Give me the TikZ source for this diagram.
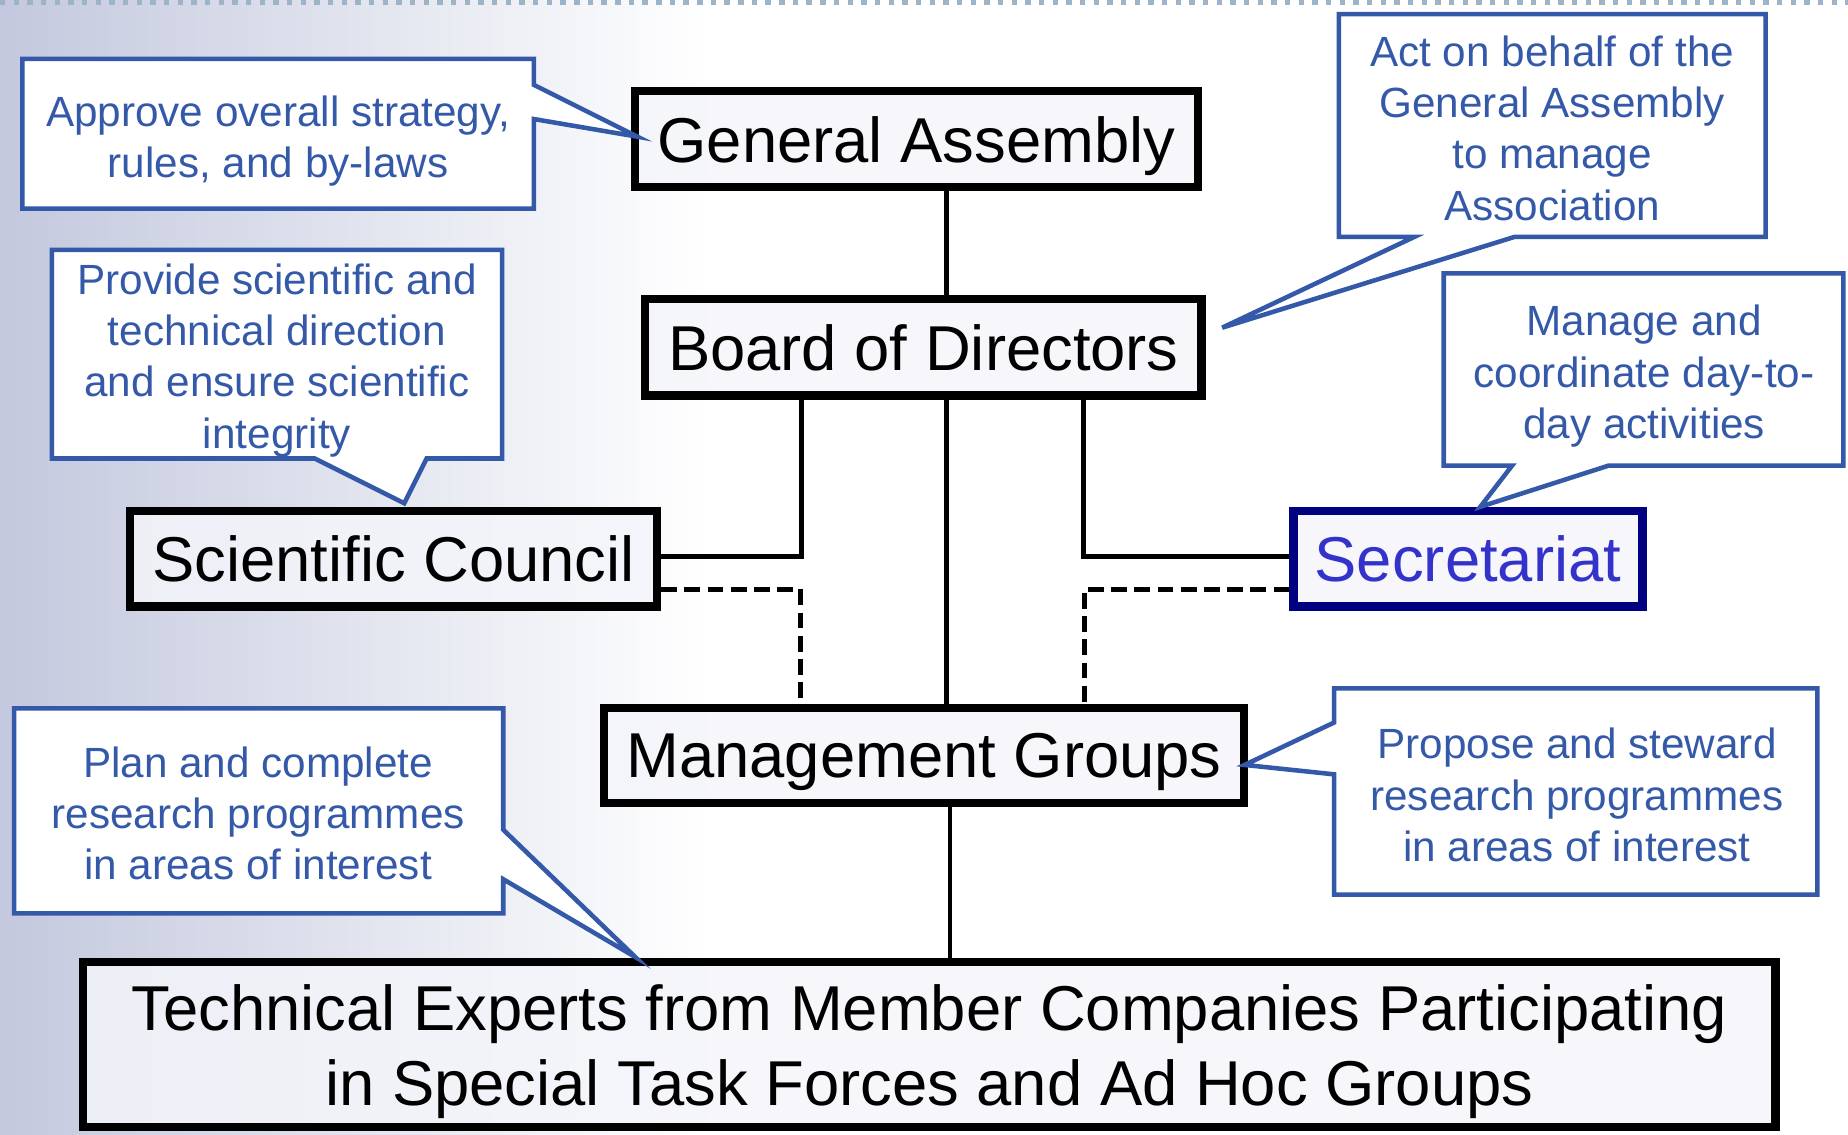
\documentclass[tikz,border=0pt]{standalone}
\usepackage{fontspec}
\setmainfont{Liberation Sans}
\usepackage[HTML]{xcolor}
\usepackage{tikz}
\usetikzlibrary{positioning, arrows, arrows.meta}
\usetikzlibrary{calc}

\definecolor{boxfill}{HTML}{F4F5FA}
\definecolor{noteblue}{HTML}{3559A9}
\definecolor{secnavy}{HTML}{000080}
\definecolor{sectext}{HTML}{3333CC}
\definecolor{bgleft}{HTML}{C3C8DE}
\definecolor{dotline}{HTML}{9DB4C8}

\begin{document}
\begin{tikzpicture}[
  unit/.style={draw=black, line width=2pt, fill=boxfill, fill opacity=0.85, text opacity=1,
    inner sep=0pt, text depth=0pt, align=center, font=\fontsize{15.3}{18.2}\selectfont},
  note/.style={draw=noteblue, line width=1.1pt, fill=white, line join=miter},
  notetext/.style={text=noteblue, inner sep=0pt, text depth=0pt, align=center, font=\fontsize{10.2}{12.4}\selectfont},
  link/.style={line width=1.15pt},
  weak/.style={line width=1.2pt, dash pattern=on 3.8pt off 1.8pt}]
\useasboundingbox (0,0) rectangle (15.68,-9.63);

% Background fade and dotted rule
\shade[left color=bgleft, middle color=bgleft!45, right color=white] (0,0) rectangle (6,-9.63);
\draw[dotline, line width=1.3pt, dotted] (0,-0.02) -- (15.68,-0.02);

% Organisation units
\node[unit, minimum width=4.78cm, minimum height=0.81cm] (GA) at (7.775,-1.18) {General Assembly};
\node[unit, minimum width=4.72cm, minimum height=0.82cm] (BD) at (7.835,-2.945) {Board of Directors};
\node[unit, minimum width=4.47cm, minimum height=0.81cm] (SC) at (3.34,-4.74) {Scientific Council};
\node[unit, draw=secnavy, text=sectext, minimum width=2.96cm, minimum height=0.81cm] (SE) at (12.455,-4.74) {Secretariat};
\node[unit, minimum width=5.43cm, minimum height=0.81cm] (MG) at (7.84,-6.41) {Management Groups};
\node[unit, minimum width=14.36cm, minimum height=1.40cm] (TE) at (7.885,-8.865)
  {Technical Experts from Member Companies Participating\\in Special Task Forces and Ad Hoc Groups};

% Reporting lines
\coordinate (midLine) at (8.03,0);
\coordinate (lowLine) at (8.06,0);
\coordinate (scJoin) at (6.80,-4.72);
\coordinate (seJoin) at (9.19,-4.72);
\coordinate (scDash) at (6.79,-5.00);
\coordinate (seDash) at (9.20,-5.00);
\draw[link] (GA.south -| midLine) -- (BD.north -| midLine);
\draw[link] (BD.south -| midLine) -- (MG.north -| midLine);
\draw[link] (MG.south -| lowLine) -- (TE.north -| lowLine);
\draw[link] (BD.south -| scJoin) -- (scJoin) -- (SC.east |- scJoin);
\draw[link] (BD.south -| seJoin) -- (seJoin) -- (SE.west |- seJoin);
\draw[weak] (SC.east |- scDash) -- (scDash) -- (MG.north -| scDash);
\draw[weak] (SE.west |- seDash) -- (seDash) -- (MG.north -| seDash);

% Callouts
\draw[note] (0.19,-0.50) -- (4.53,-0.50) -- (4.53,-0.72) -- (5.41,-1.16) -- (4.53,-1.01) -- (4.53,-1.77) -- (0.19,-1.77) -- cycle;
\node[notetext] (approve) at (2.36,-1.16) {Approve overall strategy,\\rules, and by-laws};

\draw[note] (0.44,-2.12) -- (4.26,-2.12) -- (4.26,-3.89) -- (3.62,-3.89) -- (3.43,-4.27) -- (2.67,-3.89) -- (0.44,-3.89) -- cycle;
\node[notetext] (provide) at (2.35,-3.02) {Provide scientific and\\technical direction\\and ensure scientific\\integrity};

\draw[note] (11.36,-0.12) -- (14.98,-0.12) -- (14.98,-2.01) -- (12.85,-2.01) -- (10.37,-2.78) -- (12.00,-2.01) -- (11.36,-2.01) -- cycle;
\node[notetext] (behalf) at (13.17,-1.085) {Act on behalf of the\\General Assembly\\to manage\\Association};

\draw[note] (12.25,-2.32) -- (15.64,-2.32) -- (15.64,-3.95) -- (13.65,-3.95) -- (12.56,-4.30) -- (12.83,-3.95) -- (12.25,-3.95) -- cycle;
\node[notetext] (daily) at (13.95,-3.155) {Manage and\\coordinate day-to-\\day activities};

\draw[note] (0.12,-6.01) -- (4.27,-6.01) -- (4.27,-7.04) -- (5.39,-8.12) -- (4.27,-7.46) -- (4.27,-7.75) -- (0.12,-7.75) -- cycle;
\node[notetext] (plan) at (2.19,-6.90) {Plan and complete\\research programmes\\in areas of interest};

\draw[note] (11.32,-5.84) -- (15.42,-5.84) -- (15.42,-7.59) -- (11.32,-7.59) -- (11.32,-6.57) -- (10.56,-6.49) -- (11.32,-6.13) -- cycle;
\node[notetext] (propose) at (13.38,-6.745) {Propose and steward\\research programmes\\in areas of interest};
\end{tikzpicture}
\end{document}
